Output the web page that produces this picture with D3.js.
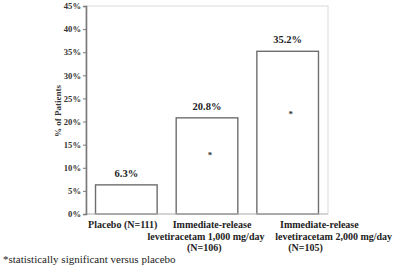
<!DOCTYPE html>
<html><head><meta charset="utf-8">
<script src="https://cdn.jsdelivr.net/npm/d3@7"></script>
<style>body{margin:0;background:#fff}svg{display:block}text{font-family:"Liberation Serif","Times New Roman",serif}</style>
</head><body><svg id="c" width="400" height="267"></svg>
<script>
const categories = ["Placebo (N=111)", "Immediate-release levetiracetam 1,000 mg/day (N=106)", "Immediate-release levetiracetam 2,000 mg/day (N=105)"];
const labelLines = [["Placebo (N=111)"], ["Immediate-release", "levetiracetam 1,000 mg/day", "(N=106)"], ["Immediate-release", "levetiracetam 2,000 mg/day", "(N=105)"]];
const lineShifts = [[-3.6], [5, -1, -2.8], [31.7, 46, 17.8]];
const values = [6.3, 20.8, 35.2];
const significant = [false, true, true];
const yTicks = [0, 5, 10, 15, 20, 25, 30, 35, 40, 45];
const footnote = "*statistically significant versus placebo";
const yTitle = "% of Patients";

const svg = d3.select("#c");
const m = {l: 86, r: 72, t: 6, b: 53};
const W = 400, H = 267;
const x = d3.scaleBand().domain(categories).range([m.l, W - m.r]).paddingInner(0.236).paddingOuter(0.118);
const y = d3.scaleLinear().domain([0, 45]).range([H - m.b, m.t]);

svg.append("rect").attr("x", m.l).attr("y", m.t).attr("width", W - m.r - m.l).attr("height", H - m.b - m.t)
  .attr("fill", "none").attr("stroke", "#d9d9d9").attr("stroke-width", 1);

svg.selectAll("rect.bar").data(values).join("rect").attr("class", "bar")
  .attr("x", (d, i) => x(categories[i])).attr("width", x.bandwidth())
  .attr("y", d => y(d)).attr("height", d => y(0) - y(d))
  .attr("fill", "#fff").attr("stroke", "#6e6e6e").attr("stroke-width", 1.4);

svg.append("line").attr("x1", m.l).attr("x2", W - m.r).attr("y1", y(0)).attr("y2", y(0)).attr("stroke", "#bdbdbd").attr("stroke-width", 1);

const ya = svg.append("g").attr("transform", `translate(${m.l},0)`)
  .call(d3.axisLeft(y).tickValues(yTicks).tickFormat(d => d + "%").tickSize(3).tickPadding(2));
ya.select(".domain").attr("stroke", "#7a7a7a").attr("stroke-width", 1.6);
ya.selectAll(".tick line").attr("stroke", "#7a7a7a");
ya.selectAll(".tick text").attr("font-family", "Liberation Serif").attr("font-weight", "bold").attr("font-size", 8.6).attr("fill", "#333");

svg.append("text").attr("transform", "translate(61,111) rotate(-90)").attr("text-anchor", "middle")
  .attr("font-size", 9).attr("font-weight", "bold").attr("fill", "#333").attr("textLength", 52).attr("lengthAdjust", "spacingAndGlyphs").text(yTitle);

svg.selectAll("text.val").data(values).join("text").attr("class", "val")
  .attr("x", (d, i) => x(categories[i]) + x.bandwidth() / 2).attr("y", d => y(d) - 8)
  .attr("text-anchor", "middle").attr("font-size", 10.5).attr("font-weight", "bold").attr("fill", "#222")
  .text(d => d.toFixed(1) + "%");

svg.selectAll("text.ast").data(values.map((v, i) => ({v, i})).filter(d => significant[d.i])).join("text").attr("class", "ast")
  .attr("x", d => x(categories[d.i]) + x.bandwidth() / 2 + 3).attr("y", d => y(d.v * 0.62) + 4)
  .attr("text-anchor", "middle").attr("font-size", 9).attr("font-weight", "bold").attr("fill", "#333").text("*");

labelLines.forEach((lines, i) => {
  lines.forEach((ln, j) => {
    svg.append("text").attr("x", x(categories[i]) + x.bandwidth() / 2 + lineShifts[i][j]).attr("y", y(0) + 14 + j * 11.7)
      .attr("text-anchor", "middle").attr("font-size", 10).attr("font-weight", "bold").attr("fill", "#222").text(ln);
  });
});

svg.append("text").attr("x", 3).attr("y", 263).attr("font-size", 11).attr("fill", "#222").text(footnote);
</script></body></html>
